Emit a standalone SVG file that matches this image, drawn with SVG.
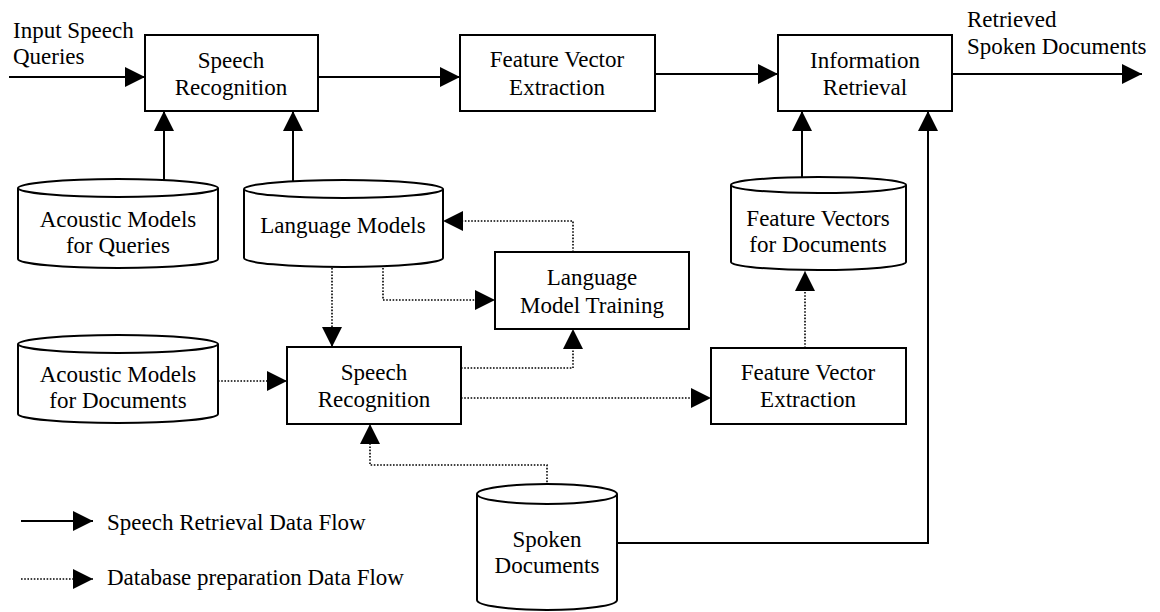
<svg xmlns="http://www.w3.org/2000/svg" width="1160" height="612" viewBox="0 0 1160 612">
<style>
text{font-family:"Liberation Serif","Times New Roman",serif;font-size:23px;fill:#000}
.c{text-anchor:middle}
.box{fill:#fff;stroke:#000;stroke-width:2}
.cyl{fill:#fff;stroke:#000;stroke-width:2}
.s{fill:none;stroke:#000;stroke-width:2}
.d{fill:none;stroke:#000;stroke-width:1.6;stroke-dasharray:1.6 1.6}
</style>
<defs>
<marker id="ah" markerUnits="userSpaceOnUse" markerWidth="20" markerHeight="20" refX="20" refY="10" orient="auto" viewBox="0 0 20 20">
<path d="M0,0 L20,10 L0,20 z" fill="#000"/>
</marker>
</defs>

<g id="connectors">
<path class="s" d="M9,77 H145" marker-end="url(#ah)"/>
<path class="s" d="M318,77 H460" marker-end="url(#ah)"/>
<path class="s" d="M655,74 H778" stroke-width="2.5" marker-end="url(#ah)"/>
<path class="s" d="M952,74 H1142" marker-end="url(#ah)"/>
<path class="s" d="M164,190 V111" marker-end="url(#ah)"/>
<path class="s" d="M293,190 V111" marker-end="url(#ah)"/>
<path class="s" d="M802,190 V111" marker-end="url(#ah)"/>
<path class="s" d="M617,543 H928 V111" marker-end="url(#ah)"/>
<path class="d" d="M573,252 V221 H443" marker-end="url(#ah)"/>
<path class="d" d="M332,268 V347" marker-end="url(#ah)"/>
<path class="d" d="M383,268 V300 H495" marker-end="url(#ah)"/>
<path class="d" d="M218,381 H287" marker-end="url(#ah)"/>
<path class="d" d="M461,368 H573 V329" marker-end="url(#ah)"/>
<path class="d" d="M461,398 H711" stroke-width="2" marker-end="url(#ah)"/>
<path class="d" d="M805,348 V271" marker-end="url(#ah)"/>
<path class="d" d="M547,495 V465 H370 V424" marker-end="url(#ah)"/>
<path class="s" d="M21,521 H93" marker-end="url(#ah)"/>
<path class="d" d="M21,579 H93" marker-end="url(#ah)"/>
</g>

<g id="label-input">
<text x="13" y="38">Input Speech</text>
<text x="13" y="64">Queries</text>
</g>
<g id="label-output">
<text x="967" y="27">Retrieved</text>
<text x="967" y="54">Spoken Documents</text>
</g>

<g id="speech-recognition-1">
<rect class="box" x="145" y="35" width="173" height="76"/>
<text class="c" x="231" y="68">Speech</text>
<text class="c" x="231" y="95">Recognition</text>
</g>
<g id="feature-vector-extraction-1">
<rect class="box" x="460" y="35" width="195" height="76"/>
<text class="c" x="557" y="67">Feature Vector</text>
<text class="c" x="557" y="95">Extraction</text>
</g>
<g id="information-retrieval">
<rect class="box" x="778" y="35" width="174" height="76"/>
<text class="c" x="865" y="68">Information</text>
<text class="c" x="865" y="95">Retrieval</text>
</g>

<g id="acoustic-models-queries">
<path class="cyl" d="M18,188 A100,9 0 0 1 218,188 V259 A100,9 0 0 1 18,259 Z"/>
<path class="cyl" d="M18,188 A100,9 0 0 0 218,188" fill="none"/>
<text class="c" x="118" y="227">Acoustic Models</text>
<text class="c" x="118" y="253">for Queries</text>
</g>
<g id="language-models">
<path class="cyl" d="M244,189 A99.5,9 0 0 1 443,189 V258 A99.5,9 0 0 1 244,258 Z"/>
<path class="cyl" d="M244,189 A99.5,9 0 0 0 443,189" fill="none"/>
<text class="c" x="343" y="233">Language Models</text>
</g>
<g id="feature-vectors-documents">
<path class="cyl" d="M731,185 A87.5,8 0 0 1 906,185 V262 A87.5,8 0 0 1 731,262 Z"/>
<path class="cyl" d="M731,185 A87.5,8 0 0 0 906,185" fill="none"/>
<text class="c" x="818" y="226">Feature Vectors</text>
<text class="c" x="818" y="252">for Documents</text>
</g>
<g id="language-model-training">
<rect class="box" x="495" y="252" width="194" height="77"/>
<text class="c" x="592" y="285">Language</text>
<text class="c" x="592" y="313">Model Training</text>
</g>
<g id="acoustic-models-documents">
<path class="cyl" d="M18,344 A100,9 0 0 1 218,344 V414 A100,9 0 0 1 18,414 Z"/>
<path class="cyl" d="M18,344 A100,9 0 0 0 218,344" fill="none"/>
<text class="c" x="118" y="382">Acoustic Models</text>
<text class="c" x="118" y="408">for Documents</text>
</g>
<g id="speech-recognition-2">
<rect class="box" x="287" y="347" width="174" height="77"/>
<text class="c" x="374" y="380">Speech</text>
<text class="c" x="374" y="407">Recognition</text>
</g>
<g id="feature-vector-extraction-2">
<rect class="box" x="711" y="348" width="195" height="76"/>
<text class="c" x="808" y="380">Feature Vector</text>
<text class="c" x="808" y="407">Extraction</text>
</g>
<g id="spoken-documents">
<path class="cyl" d="M477,494 A70,10 0 0 1 617,494 V600 A70,10 0 0 1 477,600 Z"/>
<path class="cyl" d="M477,494 A70,10 0 0 0 617,494" fill="none"/>
<text class="c" x="547" y="547">Spoken</text>
<text class="c" x="547" y="573">Documents</text>
</g>

<g id="legend">
<text x="107" y="530">Speech Retrieval Data Flow</text>
<text x="107" y="585">Database preparation Data Flow</text>
</g>
</svg>
